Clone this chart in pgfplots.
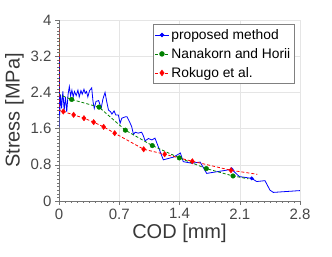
\documentclass[border=0pt]{standalone}
\usepackage{pgfplots}
\pgfplotsset{compat=1.18}
\usepackage{fontspec}
\setmainfont{Liberation Sans}
\definecolor{mgreen}{RGB}{0,128,0}
\begin{document}
\begin{tikzpicture}
\useasboundingbox (0,0) rectangle (332pt,257pt);
\begin{axis}[
  at={(59pt,56pt)}, anchor=south west,
  scale only axis, width=241pt, height=181pt,
  xmin=0, xmax=2.8, ymin=0, ymax=4,
  enlargelimits=false,
  axis x line*=bottom, axis y line*=left,
  axis line style={-, black!55},
  xtick={0,0.7,1.4,2.1,2.8},
  ytick={0,0.8,1.6,2.4,3.2,4},
  xticklabels={0,0.7,1.4,2.1,2.8},
  yticklabels={0,0.8,1.6,2.4,3.2,4},
  minor x tick num=9, minor y tick num=9,
  tick align=outside,
  major tick length=4pt, minor tick length=2pt,
  tick style={black!55, line width=0.5pt},
  grid=major,
  major grid style={black!10, line width=0.5pt},
  tick label style={font=\fontsize{15}{15}\selectfont, text=black!72},
  /pgf/number format/assume math mode=true,
  xlabel={COD [mm]}, ylabel={Stress [MPa]},
  label style={font=\fontsize{20}{20}\selectfont, text=black!78},
  xlabel style={yshift=2pt},
  ylabel style={yshift=0pt},
  legend style={at={(0.975,0.978)}, anchor=north east, draw=black!50, fill=white,
    font=\fontsize{13.8}{15}\selectfont, inner xsep=1.5pt, inner ysep=3pt, row sep=3.5pt,
    /tikz/every even column/.append style={column sep=0pt}},
  legend image code/.code={\draw[mark repeat=2,mark phase=2,#1] plot coordinates {(0pt,0pt) (7pt,0pt) (14pt,0pt)};},
  legend cell align=left,
]
% proposed method
\addplot[blue, line width=0.8pt, forget plot] coordinates {
(0,1.64) (0.004,3.19) (0.008,1.90) (0.018,2.35) (0.03,2.05) (0.045,2.42)
(0.06,2.00) (0.075,2.30) (0.09,1.97) (0.105,2.35) (0.12,2.53) (0.135,2.32)
(0.15,2.45) (0.165,2.30) (0.18,2.42) (0.2,2.33) (0.22,2.45) (0.235,2.30)
(0.255,2.44) (0.27,2.36) (0.29,2.47) (0.305,2.38) (0.32,2.42) (0.335,2.30)
(0.355,2.44) (0.38,2.50) (0.395,2.20) (0.41,2.05) (0.43,2.20) (0.46,2.22)
(0.49,2.05) (0.51,2.25) (0.535,2.40) (0.555,2.19) (0.575,2.01) (0.6,1.97)
(0.615,1.92) (0.64,1.99) (0.66,1.90) (0.69,1.90) (0.71,1.72) (0.73,1.83)
(0.77,1.86) (0.79,1.86) (0.82,1.75) (0.845,1.64) (0.865,1.47) (0.885,1.52)
(0.92,1.50) (0.96,1.52) (0.98,1.44) (1.0,1.33) (1.04,1.38) (1.08,1.35)
(1.115,1.39) (1.212,0.91) (1.33,0.97) (1.41,1.06) (1.444,0.87) (1.54,0.835)
(1.64,0.86) (1.716,0.61) (2.006,0.70) (2.095,0.54) (2.239,0.50) (2.297,0.43)
(2.393,0.45) (2.451,0.24) (2.49,0.19) (2.8,0.23)
};
\addplot[blue, only marks, mark=*, mark size=1.8pt, forget plot] coordinates {
(2.006,0.70) (2.239,0.50)
};
% Nanakorn and Horii
\addplot[mgreen, line width=0.8pt, dash pattern=on 3pt off 2pt, forget plot] coordinates {
(0,3.6) (0.004,2.35) (0.147,2.244) (0.465,2.074) (0.771,1.565) (1.084,1.225)
(1.398,0.952) (1.712,0.716) (2.022,0.553) (2.2,0.49)
};
\addplot[mgreen, only marks, mark=*, mark size=2.3pt, forget plot] coordinates {
(0.147,2.244) (0.465,2.074) (0.771,1.565) (1.084,1.225)
(1.398,0.952) (1.712,0.716) (2.022,0.553)
};
% Rokugo et al.
\addplot[red, line width=0.8pt, dash pattern=on 3pt off 2pt, forget plot] coordinates {
(0,3.8) (0.004,2.0) (0.05,1.978) (0.17,1.904) (0.29,1.83) (0.403,1.742)
(0.519,1.638) (0.647,1.498) (0.984,1.144) (1.228,1.033) (1.549,0.878)
(1.998,0.679) (2.304,0.59)
};
\addplot[red, only marks, mark=diamond*, mark size=2.7pt, forget plot] coordinates {
(0.05,1.978) (0.17,1.904) (0.29,1.83) (0.403,1.742)
(0.519,1.638) (0.647,1.498) (0.984,1.144) (1.228,1.033) (1.549,0.878)
(1.998,0.679)
};
\addlegendimage{blue, line width=0.8pt, mark=*, mark size=1.8pt}
\addlegendentry{proposed method}
\addlegendimage{mgreen, line width=0.8pt, dash pattern=on 3pt off 2pt, mark=*, mark size=2.3pt, mark options={solid}}
\addlegendentry{Nanakorn and Horii}
\addlegendimage{red, line width=0.8pt, dash pattern=on 3pt off 2pt, mark=diamond*, mark size=2.7pt, mark options={solid}}
\addlegendentry{Rokugo et al.}
\end{axis}
\end{tikzpicture}
\end{document}
